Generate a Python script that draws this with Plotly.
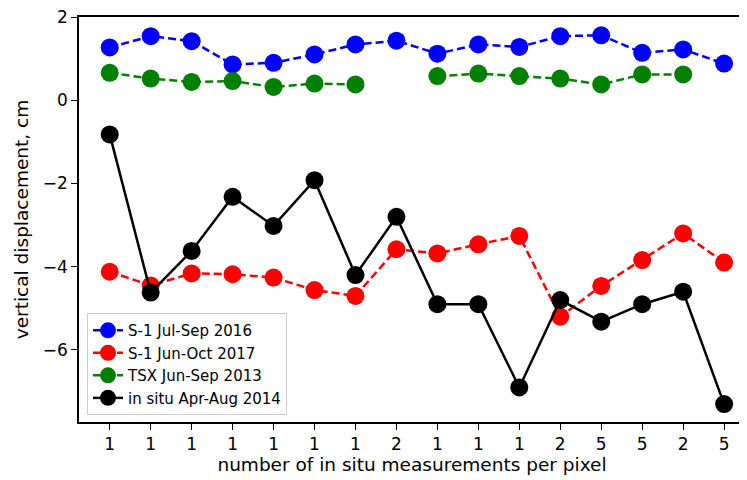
import plotly.graph_objects as go

positions = list(range(1, 17))
tick_labels = ['1', '1', '1', '1', '1', '1', '1', '2', '1', '1', '1', '2', '5', '5', '2', '5']

s1_2016 = [1.27, 1.54, 1.42, 0.86, 0.90, 1.10, 1.34, 1.43, 1.12, 1.34, 1.28, 1.54, 1.56, 1.14, 1.22, 0.88]
s1_2017 = [-4.12, -4.45, -4.16, -4.18, -4.26, -4.56, -4.70, -3.58, -3.68, -3.46, -3.26, -5.20, -4.46, -3.84, -3.20, -3.90]
tsx_2013 = [0.66, 0.52, 0.44, 0.46, 0.32, 0.40, 0.38, None, 0.58, 0.64, 0.58, 0.52, 0.38, 0.62, 0.62, None]
insitu_2014 = [-0.82, -4.62, -3.62, -2.32, -3.02, -1.92, -4.20, -2.80, -4.90, -4.90, -6.90, -4.80, -5.32, -4.90, -4.60, -7.30]

series = [
    ("S-1 Jul-Sep 2016", s1_2016, "blue", "dash"),
    ("S-1 Jun-Oct 2017", s1_2017, "red", "dash"),
    ("TSX Jun-Sep 2013", tsx_2013, "green", "dash"),
    ("in situ Apr-Aug 2014", insitu_2014, "black", "solid"),
]

fig = go.Figure()
for name, vals, color, dash in series:
    fig.add_trace(go.Scatter(
        x=positions, y=vals, name=name, mode="lines+markers",
        line=dict(color=color, width=2.5, dash="8px,4px" if dash == "dash" else "solid"),
        marker=dict(color=color, size=18),
    ))

font = "DejaVu Sans, sans-serif"
fig.update_layout(
    width=739, height=472,
    margin=dict(l=71, r=2, t=9, b=58, autoexpand=False),
    plot_bgcolor="white", paper_bgcolor="white",
    font=dict(family=font, color="black", size=17),
    showlegend=True,
    legend=dict(
        x=0.012, y=0.017, xanchor="left", yanchor="bottom",
        bgcolor="rgba(255,255,255,0.8)", bordercolor="#cccccc", borderwidth=1,
        font=dict(size=15, family=font), tracegroupgap=0, itemsizing="trace",
    ),
    xaxis=dict(
        range=[0.25, 16.51], tickmode="array", tickvals=positions, ticktext=tick_labels,
        showgrid=False, zeroline=False, showline=True, linecolor="black", linewidth=1.5,
        mirror=True, ticks="outside", ticklen=6, tickcolor="black", automargin=False,
        tickfont=dict(size=17),
        title=dict(text="number of in situ measurements per pixel", font=dict(size=18.5), standoff=3),
    ),
    yaxis=dict(
        range=[-7.73, 2.0], tickvals=[-6, -4, -2, 0, 2],
        showgrid=False, zeroline=False, showline=True, linecolor="black", linewidth=1.5,
        ticks="outside", ticklen=6, tickcolor="black", automargin=False,
        ticklabeloverflow="allow",
        tickfont=dict(size=17),
        title=dict(text="vertical displacement, cm", font=dict(size=18.5), standoff=9),
    ),
)

fig.write_html("out.html")
